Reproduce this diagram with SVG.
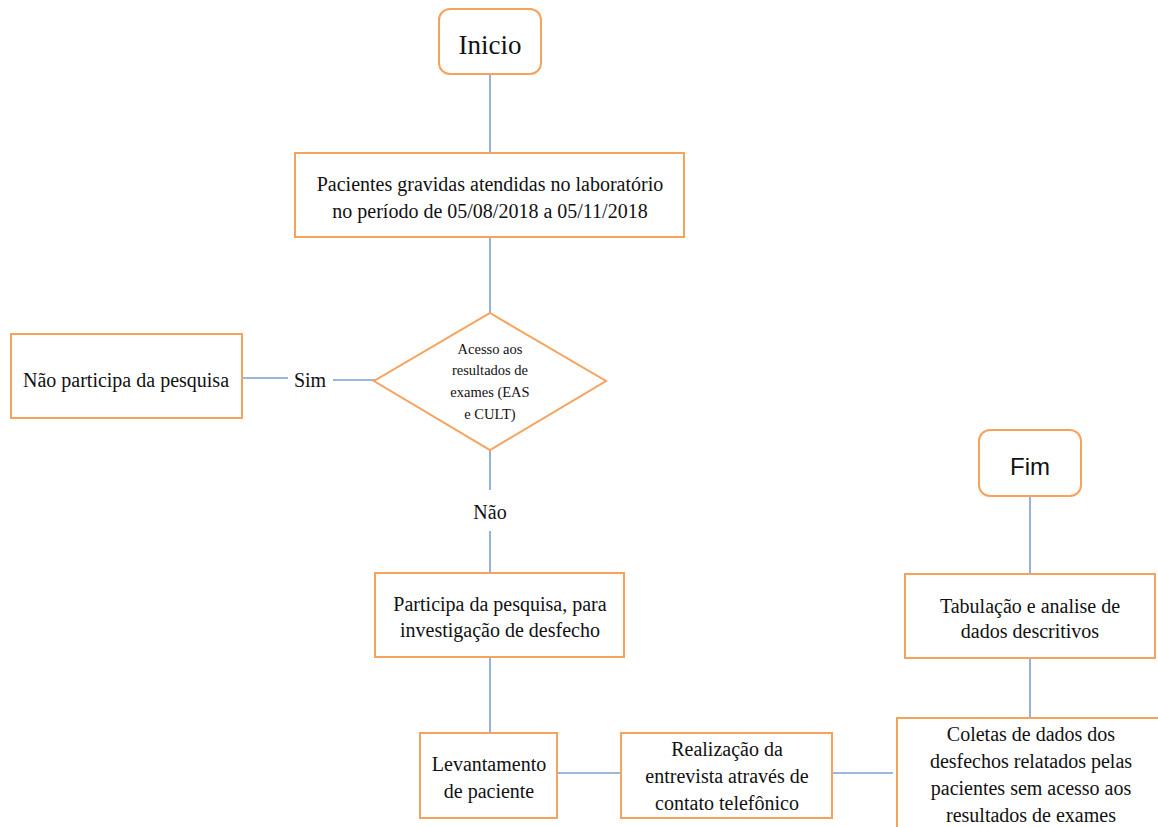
<svg xmlns="http://www.w3.org/2000/svg" width="1158" height="827" viewBox="0 0 1158 827">
<style>
.box{fill:#fff;stroke:#F7A25C;stroke-width:2}
.ln{stroke:#7A9FD3;stroke-width:1.6;fill:none}
.t{font-family:'Liberation Serif','DejaVu Serif',serif;font-size:20px;fill:#111;text-anchor:middle}
.s{font-size:14.5px}
.big{font-size:27px}
.sans{font-family:'Liberation Sans','DejaVu Sans',sans-serif;font-size:24px;fill:#111;text-anchor:middle}
</style>
<rect width="1158" height="827" fill="#fff"/>
<g id="connectors">
<line class="ln" x1="490" y1="74" x2="490" y2="153"/>
<line class="ln" x1="490" y1="237" x2="490" y2="313"/>
<line class="ln" x1="242" y1="378" x2="288" y2="378"/>
<line class="ln" x1="333" y1="380" x2="376" y2="380"/>
<line class="ln" x1="490" y1="450" x2="490" y2="490"/>
<line class="ln" x1="490" y1="531" x2="490" y2="573"/>
<line class="ln" x1="490" y1="657" x2="490" y2="733"/>
<line class="ln" x1="557" y1="773" x2="621" y2="773"/>
<line class="ln" x1="832" y1="773" x2="893" y2="773"/>
<line class="ln" x1="1030" y1="658" x2="1030" y2="718"/>
<line class="ln" x1="1030" y1="496" x2="1030" y2="574"/>
<text class="t" x="310" y="387">Sim</text>
<text class="t" x="490" y="519">Não</text>
</g>
<g id="inicio">
<rect class="box" x="439" y="9" width="102" height="65" rx="11"/>
<text class="t big" x="490" y="54">Inicio</text>
</g>
<g id="pacientes">
<rect class="box" x="295" y="153" width="389" height="84"/>
<text class="t" x="490" y="191">Pacientes gravidas atendidas no laboratório</text>
<text class="t" x="490" y="218">no período de 05/08/2018 a 05/11/2018</text>
</g>
<g id="decisao">
<polygon class="box" points="490,313 606,381 490,450 374,381"/>
<text class="t s" x="490" y="354">Acesso aos</text>
<text class="t s" x="490" y="375">resultados de</text>
<text class="t s" x="490" y="397">exames (EAS</text>
<text class="t s" x="490" y="419">e CULT)</text>
</g>
<g id="nao-participa">
<rect class="box" x="11" y="334" width="231" height="84"/>
<text class="t" x="126" y="387">Não participa da pesquisa</text>
</g>
<g id="participa">
<rect class="box" x="375" y="573" width="249" height="84"/>
<text class="t" x="500" y="611">Participa da pesquisa, para</text>
<text class="t" x="500" y="637">investigação de desfecho</text>
</g>
<g id="levantamento">
<rect class="box" x="420" y="733" width="137" height="85"/>
<text class="t" x="489" y="771">Levantamento</text>
<text class="t" x="489" y="798">de paciente</text>
</g>
<g id="realizacao">
<rect class="box" x="621" y="733" width="211" height="85"/>
<text class="t" x="727" y="756">Realização da</text>
<text class="t" x="727" y="783">entrevista através de</text>
<text class="t" x="727" y="810">contato telefônico</text>
</g>
<g id="coletas">
<rect class="box" x="897" y="718" width="275" height="120"/>
<text class="t" x="1031" y="741">Coletas de dados dos</text>
<text class="t" x="1031" y="768">desfechos relatados pelas</text>
<text class="t" x="1031" y="795">pacientes sem acesso aos</text>
<text class="t" x="1031" y="822">resultados de exames</text>
</g>
<g id="tabulacao">
<rect class="box" x="905" y="574" width="250" height="84"/>
<text class="t" x="1030" y="613">Tabulação e analise de</text>
<text class="t" x="1030" y="638">dados descritivos</text>
</g>
<g id="fim">
<rect class="box" x="979" y="430" width="102" height="66" rx="11"/>
<text class="sans" x="1030" y="475">Fim</text>
</g>
</svg>
